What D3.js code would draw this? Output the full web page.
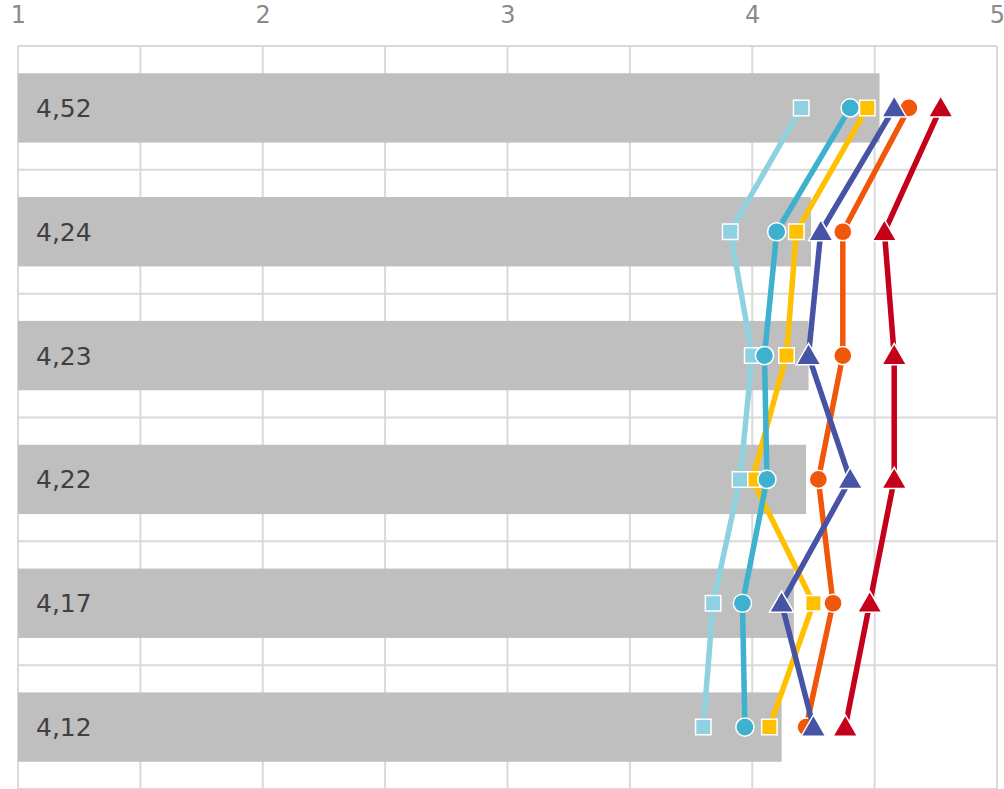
<!DOCTYPE html>
<html>
<head>
<meta charset="utf-8">
<script src="https://cdn.jsdelivr.net/npm/d3@7"></script>
<style>
  html, body { margin: 0; padding: 0; background: #ffffff; overflow: hidden; }
  svg { display: block; }
</style>
</head>
<body>
<svg id="chart" width="1004" height="789"></svg>
<script>
// ---- data ----
const categories = ["R1", "R2", "R3", "R4", "R5", "R6"];
const barValues = [4.52, 4.24, 4.23, 4.22, 4.17, 4.12];
const barLabels = ["4,52", "4,24", "4,23", "4,22", "4,17", "4,12"];
const xTicks = [1, 2, 3, 4, 5];

const seriesRed      = [4.77, 4.54, 4.58, 4.58, 4.48, 4.38];
const seriesOrange   = [4.64, 4.37, 4.37, 4.27, 4.33, 4.22];
const seriesYellow   = [4.47, 4.18, 4.14, 4.00, 4.25, 4.07];
const seriesDarkBlue = [4.58, 4.28, 4.23, 4.40, 4.12, 4.25];
const seriesLight    = [4.20, 3.91, 4.00, 3.95, 3.84, 3.80];
const seriesTeal     = [4.40, 4.10, 4.05, 4.06, 3.96, 3.97];

const series = [
  { values: seriesRed,      color: "#C5001A", marker: "triangle" },
  { values: seriesOrange,   color: "#F0570A", marker: "circle" },
  { values: seriesYellow,   color: "#FFC000", marker: "square" },
  { values: seriesDarkBlue, color: "#4754A6", marker: "triangle" },
  { values: seriesLight,    color: "#8ED1E1", marker: "square" },
  { values: seriesTeal,     color: "#3DB1CD", marker: "circle" }
];

// ---- layout ----
const svg = d3.select("#chart");
const plotL = 18, plotR = 997, plotT = 46, plotB = 789;

const x = d3.scaleLinear().domain([1, 5]).range([plotL, plotR]);
const y = d3.scaleBand().domain(categories).range([plotT, plotB])
  .paddingInner(0.44).paddingOuter(0.22);

// gridlines
const grid = svg.append("g");
const vTicks = d3.range(1, 5.001, 0.5);
grid.selectAll("line.v").data(vTicks).join("line")
  .attr("x1", d => x(d)).attr("x2", d => x(d))
  .attr("y1", plotT).attr("y2", plotB)
  .attr("stroke", "#D9D9D9").attr("stroke-width", 2);
const hLines = d3.range(categories.length + 1).map(i => plotT + i * y.step());
grid.selectAll("line.h").data(hLines).join("line")
  .attr("x1", plotL).attr("x2", plotR)
  .attr("y1", d => d).attr("y2", d => d)
  .attr("stroke", "#D9D9D9").attr("stroke-width", 2);

// top axis labels
const axis = svg.append("g").attr("transform", "translate(0,23)")
  .call(d3.axisTop(x).tickValues(xTicks).tickSize(0).tickPadding(0).tickFormat(d3.format("d")));
axis.select(".domain").remove();
axis.selectAll("text")
  .attr("dy", 0)
  .attr("font-family", "DejaVu Sans, Verdana, sans-serif")
  .attr("font-size", 24)
  .attr("fill", "#8A8A8A");

// bars
svg.append("g").selectAll("rect").data(categories).join("rect")
  .attr("x", x(1))
  .attr("y", d => y(d))
  .attr("width", (d, i) => x(barValues[i]) - x(1))
  .attr("height", y.bandwidth())
  .attr("fill", "#BFBFBF");

// bar labels
svg.append("g").selectAll("text").data(categories).join("text")
  .attr("x", x(1) + 18)
  .attr("y", d => y(d) + y.bandwidth() / 2)
  .attr("dy", "0.36em")
  .attr("font-family", "DejaVu Sans, Verdana, sans-serif")
  .attr("font-size", 25)
  .attr("fill", "#404040")
  .text((d, i) => barLabels[i]);

// lines + markers
const cy = d => y(d) + y.bandwidth() / 2;
const line = d3.line().x(d => x(d.v)).y(d => cy(d.c));
const sym = {
  triangle: d3.symbol().type(d3.symbolTriangle).size(260),
  circle: d3.symbol().type(d3.symbolCircle).size(260),
  square: d3.symbol().type(d3.symbolSquare).size(240)
};

series.forEach(s => {
  const pts = categories.map((c, i) => ({ c, v: s.values[i] }));
  const g = svg.append("g");
  g.append("path").datum(pts)
    .attr("d", line)
    .attr("fill", "none")
    .attr("stroke", s.color)
    .attr("stroke-width", 5.5)
    .attr("stroke-linejoin", "round");
  g.selectAll("path.m").data(pts).join("path")
    .attr("class", "m")
    .attr("transform", d => `translate(${x(d.v)},${cy(d.c) + (s.marker === "triangle" ? 2 : 0)})`)
    .attr("d", sym[s.marker]())
    .attr("fill", s.color)
    .attr("stroke", "#ffffff")
    .attr("stroke-width", 1.5);
});
</script>
</body>
</html>
